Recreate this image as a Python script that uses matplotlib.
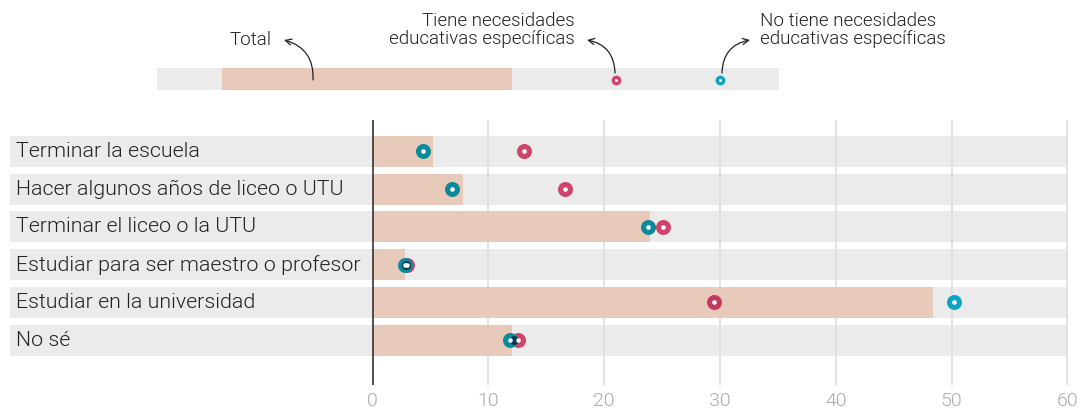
import matplotlib
matplotlib.use("Agg")
import matplotlib.pyplot as plt
from matplotlib.patches import FancyArrowPatch

categories = ["Terminar la escuela", "Hacer algunos años de liceo o UTU",
              "Terminar el liceo o la UTU", "Estudiar para ser maestro o profesor",
              "Estudiar en la universidad", "No sé"]
total = [5.2, 7.8, 24.0, 2.8, 48.4, 12.05]
con_nee = [13.05, 16.6, 25.1, 2.95, 29.5, 12.6]
sin_nee = [4.36, 6.87, 23.8, 2.8, 50.2, 11.85]
xticks = [0, 10, 20, 30, 40, 50, 60]

W, H = 1078, 411
plt.rcParams['font.family'] = ['Roboto', 'DejaVu Sans']
fig = plt.figure(figsize=(W / 100, H / 100), dpi=100)

LW = 300
GREY = "#ebebeb"
PEACH = "#e8c8b8"
PINK = "#d0436a"; PINK_D = "#c23a60"
TEAL = "#10a2c4"; TEAL_D = "#0d8a99"
TXT = "#222222"

def px_axes(x0, y0, x1, y1):
    return fig.add_axes([x0 / W, 1 - y1 / H, (x1 - x0) / W, (y1 - y0) / H])

# main axes
ax = px_axes(10, 120, 1068, 385)
scale = 11.58
xl = -(372.5 - 10) / scale
xr = (1068 - 372.5) / scale
ax.set_xlim(xl, xr)
step = 37.7
ax.set_ylim((385 - 151.5) / step, -(151.5 - 120) / step)
for s in ax.spines.values():
    s.set_visible(False)
ax.set_yticks([])
ax.set_xticks(xticks)
ax.set_xticklabels([str(t) for t in xticks], color="#aaaaaa", fontsize=14, fontweight=LW)
ax.tick_params(axis='x', length=0, pad=5)

n = len(categories)
bh = 31 / step
ys = list(range(n))
ax.barh(ys, [xr - xl] * n, left=xl, height=bh, color=GREY, zorder=1)
for t in xticks[1:]:
    ax.axvline(t, color="#dedede", lw=1.2, zorder=2)
ax.barh(ys, total, left=0, height=bh, color=PEACH, zorder=3, alpha=0.93)
ax.axvline(0, color="#333333", lw=1.2, zorder=4)
for i, c in enumerate(categories):
    ax.text(xl + 6 / scale, i, c, va='center', ha='left', fontsize=15.4,
            fontweight=LW, color=TXT, zorder=5)

for i in range(n):
    tc = TEAL_D if sin_nee[i] <= total[i] else TEAL
    pc = PINK_D if con_nee[i] <= total[i] else PINK
    ax.plot(con_nee[i], i, 'o', ms=10.8, color=pc, mec='none', zorder=6)
    ax.plot(sin_nee[i], i, 'o', ms=10.8, color=tc, mec='none', zorder=7)
    if abs(con_nee[i] - sin_nee[i]) < 1.0:
        ax.plot((con_nee[i] + sin_nee[i]) / 2, i, 'o', ms=6.5, color="#0d2a4a", mec='none', zorder=7.5, alpha=0.85)
    ax.plot(con_nee[i], i, 'o', ms=3.3, color='white', mec='none', zorder=8)
    ax.plot(sin_nee[i], i, 'o', ms=3.3, color='white', mec='none', zorder=8)

# legend axes
lg = px_axes(157, 68, 779, 90)
lg.set_xlim(157, 779); lg.set_ylim(0, 1)
lg.axis('off')
lg.barh([0.5], [779 - 157], left=157, height=1, color=GREY)
lg.barh([0.5], [512 - 222], left=222, height=1, color=PEACH)
lg.plot(616, 0.45, 'o', ms=7, color=PINK, mec='none')
lg.plot(616, 0.45, 'o', ms=2.2, color='white', mec='none')
lg.plot(720, 0.45, 'o', ms=7, color=TEAL, mec='none')
lg.plot(720, 0.45, 'o', ms=2.2, color='white', mec='none')

def fp(x, y):
    return (x / W, 1 - y / H)

fig.text(*fp(272, 40), "Total", ha='right', va='center', fontsize=13.5, fontweight=LW, color=TXT)
fig.text(*fp(575, 30), "Tiene necesidades\neducativas específicas", ha='right', va='center',
         fontsize=13.5, fontweight=LW, color=TXT, linespacing=0.95)
fig.text(*fp(760, 30), "No tiene necesidades\neducativas específicas", ha='left', va='center',
         fontsize=13.5, fontweight=LW, color=TXT, linespacing=0.95)

arrow = dict(arrowstyle='->', color='#222222', lw=0.9, shrinkA=0, shrinkB=0, mutation_scale=11)
fig.add_artist(FancyArrowPatch(fp(313, 80), fp(284, 40), transform=fig.transFigure,
               connectionstyle="arc3,rad=0.4", **arrow))
fig.add_artist(FancyArrowPatch(fp(615, 73), fp(587, 40), transform=fig.transFigure,
               connectionstyle="arc3,rad=0.4", **arrow))
fig.add_artist(FancyArrowPatch(fp(722, 73), fp(750, 40), transform=fig.transFigure,
               connectionstyle="arc3,rad=-0.4", **arrow))

fig.savefig("out.png", dpi=100)
